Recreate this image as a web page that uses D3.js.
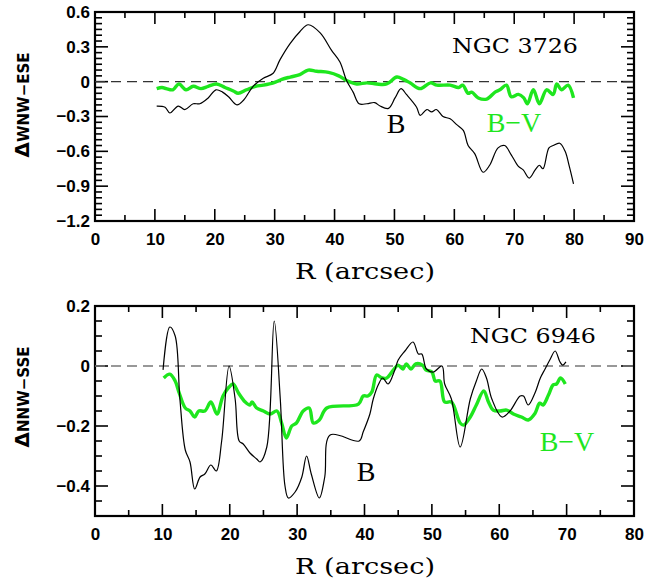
<!DOCTYPE html>
<html><head><meta charset="utf-8">
<script src="https://cdn.jsdelivr.net/npm/d3@7"></script>
<style>body{margin:0;background:#fff}svg{display:block}</style>
</head><body>
<script>
// ---- Data: NGC 3726 (top panel) ----
const topB_R = [10.3,11.7,12.5,13.9,15.0,16.4,17.5,18.9,20.2,21.3,22.3,23.7,24.8,26.4,28.1,29.7,30.9,32.6,34.2,35.6,37.6,39.5,40.9,42.0,43.1,44.1,45.4,46.7,47.6,49.0,50.1,51.1,52.0,53.7,54.3,55.4,56.2,57.0,58.1,59.3,60.4,61.5,62.3,63.4,64.8,65.9,67.3,68.4,69.5,70.7,71.5,72.5,73.5,74.2,74.8,75.8,76.5,77.6,78.5,79.2,79.9];
const topB_V = [-0.21,-0.22,-0.27,-0.21,-0.24,-0.19,-0.19,-0.14,-0.07,-0.09,-0.13,-0.20,-0.16,-0.04,0.03,0.07,0.19,0.33,0.43,0.49,0.42,0.27,0.17,0.01,-0.09,-0.19,-0.19,-0.18,-0.21,-0.23,-0.14,-0.06,-0.11,-0.22,-0.29,-0.24,-0.26,-0.24,-0.30,-0.32,-0.37,-0.42,-0.55,-0.62,-0.78,-0.72,-0.57,-0.55,-0.63,-0.73,-0.76,-0.83,-0.76,-0.72,-0.75,-0.57,-0.55,-0.53,-0.60,-0.73,-0.88];
const topBV_R = [10.3,11.2,11.9,13.0,14.0,15.2,16.4,17.7,18.9,20.3,21.7,23.1,23.9,25.3,26.8,28.1,29.8,31.2,32.6,34.2,35.6,37.0,39.0,40.7,42.0,43.7,45.4,47.0,48.7,50.4,51.5,52.6,54.3,56.0,57.1,59.3,60.7,61.4,62.3,62.9,64.0,65.4,66.8,67.6,68.7,69.5,70.7,71.6,72.2,73.2,74.2,75.4,76.5,77.1,77.9,79.0,79.9];
const topBV_V = [-0.06,-0.05,-0.06,-0.07,-0.02,-0.07,-0.04,-0.06,-0.04,-0.02,-0.05,-0.08,-0.10,-0.07,-0.04,-0.03,-0.01,0.02,0.04,0.06,0.10,0.09,0.08,0.05,0.01,-0.02,-0.01,-0.02,-0.02,0.04,0.02,-0.01,-0.06,-0.01,-0.03,-0.03,-0.05,-0.03,-0.10,-0.09,-0.14,-0.15,-0.09,-0.07,-0.03,-0.13,-0.11,-0.14,-0.19,-0.07,-0.19,-0.07,-0.11,-0.02,-0.07,-0.03,-0.14];

// ---- Data: NGC 6946 (bottom panel) ----
const botB_R = [10.1,11.1,11.9,12.6,13.4,14.1,14.8,15.6,16.3,17.2,18.0,18.8,19.9,20.8,21.4,22.0,23.0,24.0,24.5,25.5,26.6,27.5,28.2,28.7,29.7,30.7,31.4,32.1,33.3,34.1,34.9,39.2,39.8,40.8,41.3,42.1,42.7,43.5,44.5,45.0,46.0,47.2,48.0,48.5,49.2,50.2,51.5,51.9,52.9,54.2,55.7,56.6,57.4,58.1,58.9,60.4,61.6,63.1,63.6,64.3,65.3,66.1,66.8,67.5,68.3,69.0,69.4,69.9];
const botB_V = [-0.013,0.13,0.10,-0.11,-0.28,-0.32,-0.41,-0.37,-0.36,-0.33,-0.35,-0.25,0.0,-0.11,-0.25,-0.26,-0.29,-0.31,-0.32,-0.27,0.15,-0.11,-0.40,-0.44,-0.42,-0.37,-0.30,-0.36,-0.44,-0.37,-0.23,-0.25,-0.22,-0.16,-0.11,-0.06,-0.04,-0.06,-0.013,0.02,0.05,0.08,0.04,0.04,-0.01,-0.02,0.0,-0.06,-0.11,-0.27,-0.11,-0.05,-0.01,-0.04,-0.11,-0.17,-0.15,-0.10,-0.10,-0.13,-0.09,-0.04,-0.01,0.02,0.05,0.014,0.003,0.014];
const botBV_R = [10.2,11.1,11.9,12.5,13.4,14.1,14.8,15.4,16.3,17.2,18.1,19.0,19.9,20.5,21.3,22.3,23.0,23.3,24.0,25.0,26.0,27.0,27.7,28.4,29.2,29.9,30.9,31.8,32.4,33.3,34.4,39.1,39.8,40.5,41.1,41.8,42.6,43.3,44.3,45.0,45.7,46.2,46.9,47.6,48.6,49.1,50.0,50.5,51.2,51.9,52.9,54.2,54.7,55.7,56.6,57.7,58.4,59.1,60.1,61.1,62.1,63.3,64.3,65.3,66.0,66.5,67.3,68.0,68.5,69.1,69.8];
const botBV_V = [-0.04,-0.027,-0.05,-0.09,-0.14,-0.15,-0.17,-0.15,-0.15,-0.12,-0.16,-0.10,-0.07,-0.06,-0.09,-0.12,-0.13,-0.12,-0.14,-0.15,-0.16,-0.15,-0.19,-0.24,-0.20,-0.19,-0.15,-0.14,-0.19,-0.18,-0.14,-0.127,-0.10,-0.10,-0.086,-0.03,-0.04,-0.04,-0.013,0.003,-0.01,0.007,-0.01,0.007,0.003,-0.013,-0.02,-0.05,-0.05,-0.12,-0.12,-0.19,-0.197,-0.17,-0.13,-0.083,-0.12,-0.147,-0.15,-0.147,-0.16,-0.17,-0.18,-0.158,-0.124,-0.13,-0.097,-0.063,-0.06,-0.04,-0.06];

const topXTicks = [0,10,20,30,40,50,60,70,80,90];
const topYTicks = [0.6,0.3,0,-0.3,-0.6,-0.9,-1.2];
const botXTicks = [0,10,20,30,40,50,60,70,80];
const botYTicks = [0.2,0,-0.2,-0.4];

const GREEN = "#1ee61e";
const W = 670, H = 581;
const svg = d3.select("body").append("svg").attr("width", W).attr("height", H);

function panel(cfg) {
  const x = d3.scaleLinear().domain(cfg.xdom).range([95, 634]);
  const y = d3.scaleLinear().domain(cfg.ydom).range([cfg.bottom, cfg.top]);
  const g = svg.append("g");
  const tickFmt = cfg.fmt;

  // minor ticks positions
  const xMinor = d3.range(cfg.xdom[0], cfg.xdom[1] + 0.001, 5);
  const yMinor = d3.range(0, Math.round((cfg.ydom[1] - cfg.ydom[0]) / cfg.yMinorStep) + 1).map(i => cfg.ydom[0] + i * cfg.yMinorStep);

  const isMajorX = v => cfg.xTicks.some(t => Math.abs(t - v) < 1e-6);
  const isMajorY = v => cfg.yTicks.some(t => Math.abs(t - v) < 1e-6);

  const tg = g.append("g").attr("stroke", "#000").attr("stroke-width", 1.6);
  xMinor.forEach(v => {
    const L = isMajorX(v) ? 12 : 6;
    tg.append("line").attr("x1", x(v)).attr("x2", x(v)).attr("y1", cfg.bottom).attr("y2", cfg.bottom - L);
    tg.append("line").attr("x1", x(v)).attr("x2", x(v)).attr("y1", cfg.top).attr("y2", cfg.top + L);
  });
  yMinor.forEach(v => {
    const L = isMajorY(v) ? 13 : 7;
    tg.append("line").attr("y1", y(v)).attr("y2", y(v)).attr("x1", 95).attr("x2", 95 + L);
    tg.append("line").attr("y1", y(v)).attr("y2", y(v)).attr("x1", 634).attr("x2", 634 - L);
  });

  // axes with labels via d3 axes
  const xAxis = d3.axisBottom(x).tickValues(cfg.xTicks).tickSize(0).tickPadding(12).tickFormat(d3.format("d"));
  g.append("g").attr("transform", `translate(0,${cfg.bottom})`).call(xAxis)
    .call(s => s.select(".domain").remove())
    .selectAll("text").attr("font-family", "Liberation Sans, Arial, sans-serif").attr("font-weight", "bold").attr("font-size", 17).attr("fill", "#000");
  const yAxis = d3.axisLeft(y).tickValues(cfg.yTicks).tickSize(0).tickPadding(5).tickFormat(tickFmt);
  g.append("g").attr("transform", `translate(95,0)`).call(yAxis)
    .call(s => s.select(".domain").remove())
    .selectAll("text").attr("font-family", "Liberation Sans, Arial, sans-serif").attr("font-weight", "bold").attr("font-size", 17).attr("fill", "#000");

  // frame
  g.append("rect").attr("x", 95).attr("y", cfg.top).attr("width", 539).attr("height", cfg.bottom - cfg.top)
    .attr("fill", "none").attr("stroke", "#000").attr("stroke-width", 2.2);

  // zero dashed
  g.append("line").attr("x1", 95).attr("x2", 634).attr("y1", y(0)).attr("y2", y(0))
    .attr("stroke", cfg.dashColor).attr("stroke-width", 1.4).attr("stroke-dasharray", "10,6");

  const line = d3.line().x(d => x(d[0])).y(d => y(d[1])).curve(d3.curveCatmullRom.alpha(0.5));
  g.append("path").datum(d3.zip(cfg.bvR, cfg.bvV)).attr("d", line)
    .attr("fill", "none").attr("stroke", GREEN).attr("stroke-width", 3.4).attr("stroke-linejoin", "round");
  g.append("path").datum(d3.zip(cfg.bR, cfg.bV)).attr("d", line)
    .attr("fill", "none").attr("stroke", "#000").attr("stroke-width", 1.2);

  // x title
  g.append("text").attr("x", 365).attr("y", cfg.bottom + 58).attr("text-anchor", "middle")
    .attr("font-family", "DejaVu Serif, serif").attr("font-size", 22)
    .attr("textLength", 140).attr("lengthAdjust", "spacingAndGlyphs").text("R (arcsec)");

  // y title
  const yt = g.append("text").attr("transform", `translate(29,${cfg.ylabY}) rotate(-90)`)
    .attr("text-anchor", "middle").attr("font-family", "DejaVu Sans, sans-serif").attr("font-weight", "bold");
  yt.append("tspan").attr("font-size", 20).text("Δ");
  yt.append("tspan").attr("font-size", 15).text(cfg.ylab);

  // annotations
  g.append("text").attr("x", cfg.ngcX).attr("y", cfg.ngcY).attr("text-anchor", "middle")
    .attr("font-family", "DejaVu Serif, serif").attr("font-size", 21)
    .attr("textLength", 126).attr("lengthAdjust", "spacingAndGlyphs").text(cfg.ngc);
  g.append("text").attr("x", cfg.bX).attr("y", cfg.bY).attr("text-anchor", "middle")
    .attr("font-family", "Liberation Serif, serif").attr("font-size", 28).text("B");
  g.append("text").attr("x", cfg.bvX).attr("y", cfg.bvY).attr("text-anchor", "middle")
    .attr("font-family", "Liberation Serif, serif").attr("font-size", 28).attr("fill", GREEN).text("B−V");
}

const fmtTop = d => d === 0 ? "0" : d3.format(".1f")(d).replace("-", "−");
const fmtBot = d => d === 0 ? "0" : d3.format(".1f")(d).replace("-", "−");

panel({xdom: [0, 90], ydom: [-1.2, 0.6], top: 12, bottom: 221, xTicks: topXTicks, yTicks: topYTicks, yMinorStep: 0.05,
  fmt: fmtTop, dashColor: "#333", bR: topB_R, bV: topB_V, bvR: topBV_R, bvV: topBV_V,
  ylab: "WNW−ESE", ylabY: 105, ngc: "NGC 3726", ngcX: 515, ngcY: 53, bX: 396, bY: 133, bvX: 514, bvY: 132});
panel({xdom: [0, 80], ydom: [-0.5, 0.2], top: 306, bottom: 516, xTicks: botXTicks, yTicks: botYTicks, yMinorStep: 0.05,
  fmt: fmtBot, dashColor: "#777", bR: botB_R, bV: botB_V, bvR: botBV_R, bvV: botBV_V,
  ylab: "NNW−SSE", ylabY: 397, ngc: "NGC 6946", ngcX: 533, ngcY: 343, bX: 366, bY: 481, bvX: 567, bvY: 451});
</script>
</body></html>
